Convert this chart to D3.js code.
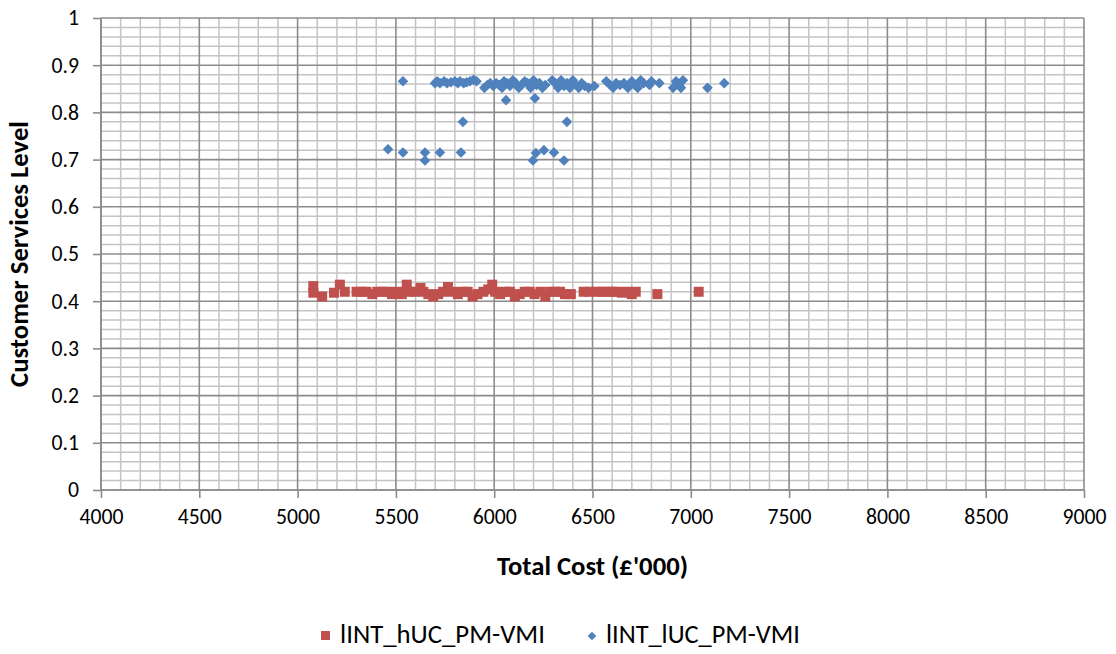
<!DOCTYPE html>
<html><head><meta charset="utf-8">
<script src="https://cdn.jsdelivr.net/npm/d3@7"></script>
<style>
body{margin:0;background:#fff;}
svg{display:block;font-family:Carlito,Lato,"Liberation Sans",sans-serif;}
</style></head>
<body><svg id="c" width="1116" height="654"></svg>
<script>
// ---- data ----
const xTicks = [4000,4500,5000,5500,6000,6500,7000,7500,8000,8500,9000];
const yTicks = [0,0.1,0.2,0.3,0.4,0.5,0.6,0.7,0.8,0.9,1];
const seriesNames = ["lINT_hUC_PM-VMI","lINT_lUC_PM-VMI"];

const hucCost = [5080,5080,5125,5185,5215,5240,5300,5325,5350,5380,5405,5430,5455,5480,5505,5530,5555,5570,5595,5625,5640,5665,5690,5715,5740,5765,5790,5815,5840,5865,5890,5915,5945,5970,5990,6005,6030,6055,6080,6105,6130,6155,6180,6205,6235,6260,6285,6310,6335,6360,6390,6455,6485,6520,6550,6575,6600,6625,6650,6675,6700,6720,6830,7040];
const hucLevel = [0.432,0.418,0.410,0.418,0.435,0.420,0.420,0.420,0.420,0.415,0.420,0.420,0.420,0.415,0.420,0.415,0.435,0.420,0.420,0.428,0.420,0.415,0.410,0.415,0.420,0.430,0.420,0.415,0.420,0.420,0.410,0.415,0.420,0.425,0.435,0.420,0.415,0.420,0.420,0.410,0.415,0.420,0.420,0.415,0.420,0.410,0.420,0.420,0.420,0.415,0.415,0.420,0.420,0.420,0.420,0.420,0.420,0.420,0.418,0.420,0.415,0.420,0.415,0.420];

const lucCost = [5536,5460,5536,5648,5648,5724,5831,5841,6060,6207,6197,6212,6253,6304,6355,6370,
  5699,5710,5724,5745,5760,5780,5800,5815,5826,5845,5860,5877,5895,5910,5950,5965,5980,5995,6010,6025,6040,6050,6065,6080,6095,6110,6125,6140,6155,6170,6185,6200,6215,6230,6245,6260,6295,6310,6325,6340,6355,6370,6385,6400,6415,6430,6445,6460,6480,6510,6570,6590,6605,6620,6640,6660,6680,6700,6715,6730,6745,6760,6790,6800,6840,6910,6925,6940,6960,6950,7085,7170];
const lucLevel = [0.866,0.722,0.715,0.715,0.698,0.715,0.715,0.780,0.826,0.830,0.698,0.714,0.720,0.715,0.698,0.780,
  0.862,0.866,0.862,0.866,0.862,0.864,0.866,0.862,0.866,0.862,0.864,0.866,0.869,0.866,0.852,0.858,0.862,0.856,0.862,0.858,0.852,0.866,0.862,0.856,0.868,0.862,0.852,0.858,0.866,0.862,0.852,0.868,0.858,0.862,0.852,0.858,0.868,0.862,0.852,0.868,0.856,0.862,0.852,0.868,0.858,0.852,0.862,0.856,0.852,0.856,0.866,0.858,0.852,0.862,0.858,0.862,0.852,0.866,0.858,0.852,0.868,0.862,0.858,0.866,0.862,0.852,0.866,0.858,0.868,0.852,0.852,0.862];

// ---- chart ----
const svg = d3.select("#c");
const L=101, R=1084, T=18, B=490;
const x = d3.scaleLinear().domain([4000,9000]).range([L,R]);
const y = d3.scaleLinear().domain([0,1]).range([B,T]);

function fit(sel, target){
  sel.style("font-size","20px");
  const w = sel.node().getComputedTextLength();
  const fs = (20*target/w).toFixed(2)+"px";
  sel.style("font-size", fs);
  return fs;
}

const grid = svg.append("g");
d3.range(4000,9001,100).filter(v=>v%500!==0).forEach(v=>{
  grid.append("line").attr("x1",x(v)).attr("x2",x(v)).attr("y1",T).attr("y2",B)
    .attr("stroke","#c4c4c4").attr("stroke-width",1.5);
});
d3.range(0,51,1).filter(v=>v%5!==0).forEach(i=>{
  const v=i/50;
  grid.append("line").attr("x1",L).attr("x2",R).attr("y1",y(v)).attr("y2",y(v))
    .attr("stroke","#c4c4c4").attr("stroke-width",1.5);
});
xTicks.forEach(v=>{
  grid.append("line").attr("x1",x(v)).attr("x2",x(v)).attr("y1",T).attr("y2",B)
    .attr("stroke","#8c8c8c").attr("stroke-width",1.6);
});
yTicks.forEach(v=>{
  grid.append("line").attr("x1",L).attr("x2",R).attr("y1",y(v)).attr("y2",y(v))
    .attr("stroke","#8c8c8c").attr("stroke-width",1.6);
});

// axes
const xAxis = d3.axisBottom(x).tickValues(xTicks).tickSize(8).tickPadding(11).tickFormat(d3.format("d"));
const yAxis = d3.axisLeft(y).tickValues(yTicks).tickSize(8).tickPadding(14).tickFormat(d=>String(+d.toFixed(1)));
const gx = svg.append("g").attr("transform",`translate(0,${B})`).call(xAxis);
const gy = svg.append("g").attr("transform",`translate(${L},0)`).call(yAxis);
[gx,gy].forEach(g=>{
  g.selectAll("path,line").attr("stroke","#8c8c8c").attr("stroke-width",1.6);
  g.selectAll("text").attr("fill","#000").style("font-family","Carlito,Lato,'Liberation Sans',sans-serif");
});
const tickSize = fit(gx.select(".tick text"), 44);
gx.selectAll("text").style("font-size",tickSize);
gy.selectAll("text").style("font-size",tickSize);
gx.select(".domain").attr("d",`M${L},0H${R}`);
gy.select(".domain").attr("d",`M0,${T}V${B}`);

// titles
const titleSize = fit(svg.append("text").attr("x",(L+R)/2).attr("y",575).attr("text-anchor","middle")
  .style("font-weight","bold").text("Total Cost (£'000)"), 191);
svg.append("text").attr("transform",`translate(28,${(T+B)/2}) rotate(-90)`).attr("text-anchor","middle")
  .style("font-weight","bold").style("font-size",titleSize).text("Customer Services Level");

// series
const red="#C0504D", blue="#4F81BD";
svg.append("g").selectAll("rect").data(d3.range(hucCost.length)).join("rect")
  .attr("x",i=>x(hucCost[i])-5).attr("y",i=>y(hucLevel[i])-5).attr("width",10).attr("height",10).attr("fill",red);
const dia = d3.symbol().type(d3.symbolDiamond2).size(72);
svg.append("g").selectAll("path").data(d3.range(lucCost.length)).join("path")
  .attr("d",dia).attr("transform",i=>`translate(${x(lucCost[i])},${y(lucLevel[i])})`).attr("fill",blue);

// legend
const lg = svg.append("g");
lg.append("rect").attr("x",321).attr("y",631).attr("width",9).attr("height",9).attr("fill",red);
fit(lg.append("text").attr("x",340).attr("y",643).text(seriesNames[0]), 205);
lg.append("path").attr("d",d3.symbol().type(d3.symbolDiamond2).size(48)).attr("transform","translate(592,636)").attr("fill",blue);
fit(lg.append("text").attr("x",606).attr("y",643).text(seriesNames[1]), 194);
</script>
</body></html>
